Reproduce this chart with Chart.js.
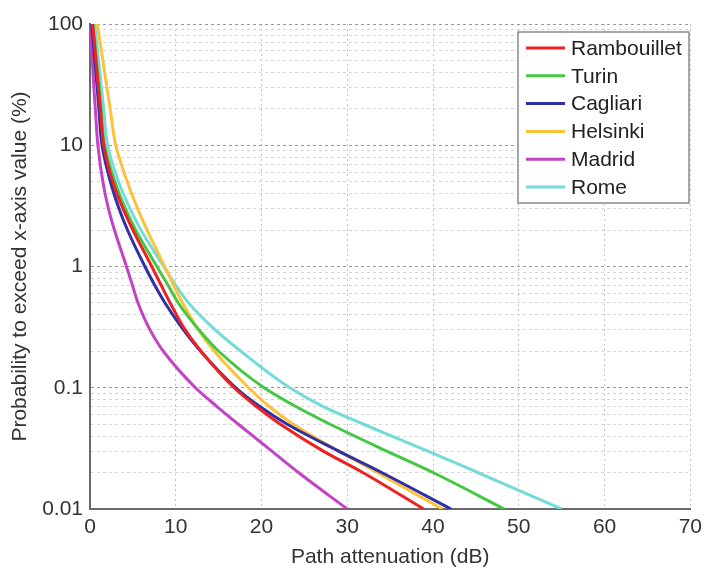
<!DOCTYPE html>
<html>
<head>
<meta charset="utf-8">
<script src="https://cdn.jsdelivr.net/npm/chart.js@4.4.1/dist/chart.umd.min.js"></script>
<style>
  html, body { margin: 0; padding: 0; background: #fff; }
  canvas { display: block; }
</style>
</head>
<body>
<canvas id="attChart" width="708" height="571"></canvas>
<script>
// exceedance probability (%) shared by all curves
const probLevels = [100, 50, 30, 20, 10, 5, 3, 2, 1, 0.7, 0.5, 0.3, 0.2, 0.1, 0.07, 0.05, 0.03, 0.02, 0.01];

// path attenuation (dB) reached at each probability level
const rambouillet = [0.3, 0.69, 0.98, 1.21, 1.6, 2.65, 3.85, 5.0, 7.2, 8.3, 9.35, 11.1, 12.95, 16.8, 19.4, 22.2, 27.2, 31.8, 38.9];
const turin       = [0.35, 0.76, 1.06, 1.29, 1.7, 2.9, 4.13, 5.32, 7.8, 9.1, 10.3, 12.7, 15.0, 20.3, 24.0, 28.0, 34.6, 40.0, 48.3];
const cagliari    = [0.2, 0.56, 0.83, 1.04, 1.4, 2.38, 3.39, 4.37, 6.4, 7.55, 8.75, 10.9, 12.9, 17.0, 19.8, 23.0, 29.0, 34.0, 42.1];
const helsinki    = [0.85, 1.5, 1.97, 2.35, 3.0, 4.34, 5.55, 6.65, 8.7, 9.75, 10.8, 12.65, 14.5, 18.5, 20.9, 23.7, 29.0, 33.5, 41.1];
const madrid      = [0.0, 0.27, 0.45, 0.62, 0.92, 1.5, 2.15, 2.85, 4.25, 4.95, 5.6, 7.0, 8.55, 12.3, 14.8, 17.3, 21.2, 24.3, 30.0];
const rome        = [0.55, 1.0, 1.33, 1.6, 2.05, 3.33, 4.66, 5.94, 8.6, 10.0, 11.5, 14.6, 17.6, 23.3, 27.2, 31.9, 39.4, 45.2, 55.0];

const cities = ["Rambouillet", "Turin", "Cagliari", "Helsinki", "Madrid", "Rome"];
const cityValues = [rambouillet, turin, cagliari, helsinki, madrid, rome];
const cityColors = ["#ee2222", "#44c844", "#2f2fa8", "#fcc23a", "#c443c4", "#74dcd8"];

const xTickLabels = [0, 10, 20, 30, 40, 50, 60, 70];
const yTickLabels = [0.01, 0.1, 1, 10, 100];

// decades plus the 2..9 minor lines between them
const yGridValues = [];
yTickLabels.forEach((d, i) => {
  yGridValues.push(d);
  if (i < yTickLabels.length - 1) {
    for (let k = 2; k <= 9; k++) yGridValues.push(d * k);
  }
});

const fontFamily = "'Liberation Sans', Arial, sans-serif";
const textColor = "#333";

// legend with a frame, drawn inside the plot area
const boxedLegend = {
  id: "boxedLegend",
  afterDraw(chart) {
    const ctx = chart.ctx;
    const x0 = 518, y0 = 32, w = 171, h = 171;
    const rowH = 27.8;
    ctx.save();
    ctx.fillStyle = "#fff";
    ctx.fillRect(x0, y0, w, h);
    ctx.strokeStyle = "#8a8a8a";
    ctx.lineWidth = 1.5;
    ctx.strokeRect(x0, y0, w, h);
    ctx.font = "21px " + fontFamily;
    ctx.textBaseline = "middle";
    chart.data.datasets.forEach((ds, i) => {
      const y = y0 + 16 + i * rowH;
      ctx.strokeStyle = ds.borderColor;
      ctx.lineWidth = 3;
      ctx.beginPath();
      ctx.moveTo(x0 + 8, y);
      ctx.lineTo(x0 + 47, y);
      ctx.stroke();
      ctx.fillStyle = "#222";
      ctx.fillText(ds.label, x0 + 53, y + 1);
    });
    ctx.restore();
  }
};

// probability runs along the y axis, so the curves are smoothed along y
const datasets = cities.map((name, i) => ({
  label: name,
  data: cityValues[i].map((a, j) => ({ x: a, y: probLevels[j] })),
  borderColor: cityColors[i],
  backgroundColor: cityColors[i],
  borderWidth: 3,
  pointRadius: 0,
  fill: false,
  cubicInterpolationMode: "monotone"
}));

new Chart(document.getElementById("attChart"), {
  type: "line",
  data: { datasets: datasets },
  options: {
    indexAxis: "y",
    responsive: false,
    animation: false,
    layout: { padding: { top: 24, right: 11, left: 0, bottom: 0 } },
    plugins: {
      legend: { display: false },
      tooltip: { enabled: false }
    },
    scales: {
      x: {
        type: "linear",
        min: 0,
        max: 70,
        afterBuildTicks: s => { s.ticks = xTickLabels.map(v => ({ value: v })); },
        afterFit: s => { s.height = 62; },
        ticks: {
          font: { family: fontFamily, size: 21 },
          color: textColor,
          padding: 6,
          maxRotation: 0
        },
        grid: { color: "#c4c4c4", lineWidth: 1, drawTicks: false },
        border: { color: "#6a6a6a", width: 2, dash: [2, 3] },
        title: {
          display: true,
          text: "Path attenuation (dB)",
          font: { family: fontFamily, size: 21 },
          color: textColor,
          padding: { top: 0, bottom: 1 }
        }
      },
      y: {
        type: "logarithmic",
        min: 0.01,
        max: 100,
        afterBuildTicks: s => { s.ticks = yGridValues.map(v => ({ value: v })); },
        afterFit: s => { s.width = 90; },
        ticks: {
          autoSkip: false,
          font: { family: fontFamily, size: 21 },
          color: textColor,
          padding: 7,
          callback: v => (yTickLabels.includes(v) ? String(v) : "")
        },
        grid: {
          drawTicks: false,
          lineWidth: 1,
          color: c => (yTickLabels.includes(c.tick.value) ? "#9a9a9a" : "#d6d6d6")
        },
        border: { color: "#6a6a6a", width: 2, dash: [3, 3] },
        title: {
          display: true,
          text: "Probability to exceed x-axis value (%)",
          font: { family: fontFamily, size: 21 },
          color: textColor,
          padding: { top: 8, bottom: 0 }
        }
      }
    }
  },
  plugins: [boxedLegend]
});
</script>
</body>
</html>
